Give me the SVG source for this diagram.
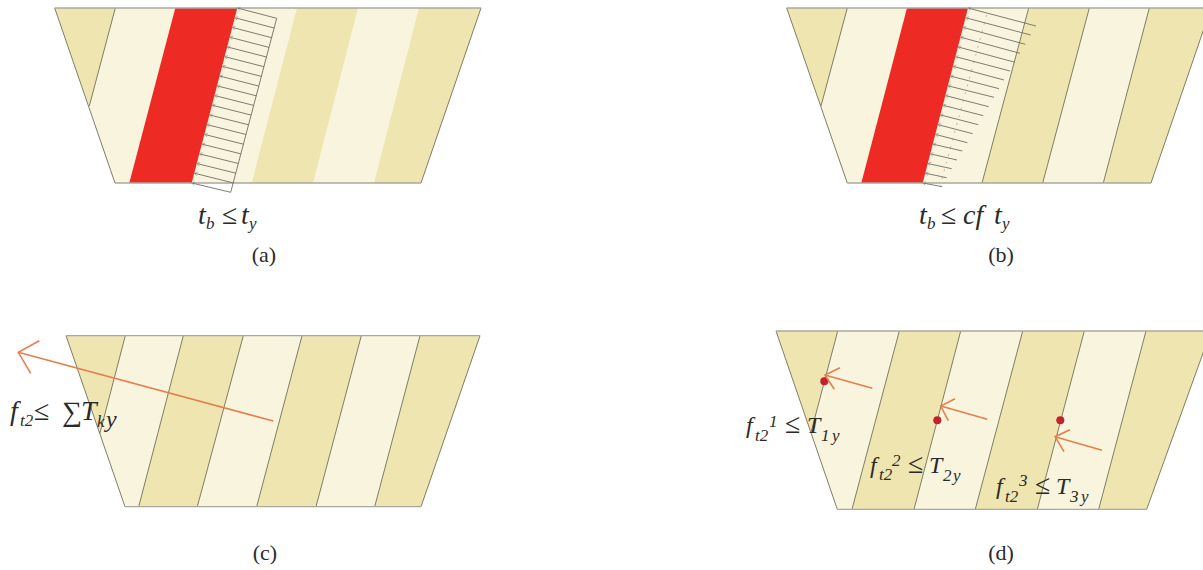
<svg xmlns="http://www.w3.org/2000/svg" width="1203" height="570" viewBox="0 0 1203 570">
<defs>
<marker id="tick" viewBox="0 0 8 8" refX="1" refY="4" markerWidth="8" markerHeight="8" markerUnits="userSpaceOnUse" orient="auto"><path d="M4 2.2L1 4L4 5.8" fill="none" stroke="#9a9a90" stroke-width="0.7"/></marker>
</defs>
<style>
.d{fill:#EEE5B0}
.l{fill:#F8F4DE}
.r{fill:#EE2A24}
.e{fill:none;stroke:#7f7e66;stroke-width:1}
.top{fill:none;stroke:#a9a99c;stroke-width:1.3}
.h{fill:none;stroke:#6f6f68;stroke-width:0.9}
.o{fill:none;stroke:#E67F4C;stroke-width:1.6}
.p{fill:#C4202E}
text{font-family:"Liberation Serif","Times New Roman",serif;fill:#2a2a2a}
.m{font-size:28px;font-style:italic}
.n{font-size:24px;font-style:italic}
.s{font-size:17px;font-style:italic}
.u{font-size:28px}
.c{font-size:22px;text-anchor:middle}
</style>

<g id="panel-a">
<path class="l" d="M54.7 8H481L421 183H115Z"/>
<path class="d" d="M54.7 8H115.3L89.3 106Z"/>
<path class="r" d="M175.3 8H237.3L191.7 183H129.3Z"/>
<path class="d" d="M297 8H358L313 183H251.7Z"/>
<path class="d" d="M419 8H481L421 183H374Z"/>
<path class="e" d="M54.7 8L115 183M481 8L421 183M115.3 8L89.3 106"/>
<path class="top" d="M54.7 8H481M115 183H421"/>
</g>
<g id="panel-a-hatch">
<path class="h" d="M276.7 18.3L230.7 192.3"/>
<path class="h" marker-start="url(#tick)" d="M237.3 8L276.7 18.3"/>
<path class="h" marker-start="url(#tick)" d="M234.8 17.7L274.1 28"/>
<path class="h" marker-start="url(#tick)" d="M232.2 27.4L271.6 37.7"/>
<path class="h" marker-start="url(#tick)" d="M229.7 37.2L269 47.4"/>
<path class="h" marker-start="url(#tick)" d="M227.2 46.9L266.5 57"/>
<path class="h" marker-start="url(#tick)" d="M224.6 56.6L263.9 66.7"/>
<path class="h" marker-start="url(#tick)" d="M222.1 66.3L261.4 76.4"/>
<path class="h" marker-start="url(#tick)" d="M219.6 76L258.8 86.1"/>
<path class="h" marker-start="url(#tick)" d="M217 85.8L256.3 95.8"/>
<path class="h" marker-start="url(#tick)" d="M214.5 95.5L253.7 105.4"/>
<path class="h" marker-start="url(#tick)" d="M212 105.2L251.2 115.1"/>
<path class="h" marker-start="url(#tick)" d="M209.4 114.9L248.6 124.8"/>
<path class="h" marker-start="url(#tick)" d="M206.9 124.6L246.1 134.5"/>
<path class="h" marker-start="url(#tick)" d="M204.4 134.4L243.5 144.2"/>
<path class="h" marker-start="url(#tick)" d="M201.8 144.1L241 153.9"/>
<path class="h" marker-start="url(#tick)" d="M199.3 153.8L238.4 163.5"/>
<path class="h" marker-start="url(#tick)" d="M196.8 163.5L235.9 173.2"/>
<path class="h" marker-start="url(#tick)" d="M194.2 173.2L233.3 182.9"/>
<path class="h" marker-start="url(#tick)" d="M191.7 183L230.7 192.3"/>
</g>
<g id="label-a">
<text class="m" x="198" y="224">t</text><text class="s" x="206" y="229">b</text><text class="u" x="222" y="224">≤</text><text class="m" x="241" y="224">t</text><text class="s" x="249" y="229">y</text>
<text class="c" x="264" y="262">(a)</text>
</g>

<g id="panel-b">
<path class="l" d="M786.7 8H1211L1151 183H847.3Z"/>
<path class="d" d="M786.7 8H847.3L821 106Z"/>
<path class="r" d="M907 8H968L922.7 183H861.3Z"/>
<path class="d" d="M1028.7 8H1089.3L1042.7 183H982Z"/>
<path class="d" d="M1149.3 8H1211L1151 183H1103.3Z"/>
<path class="e" d="M786.7 8L847.3 183M1211 8L1151 183M847.3 8L821 106M1028.7 8L982 183M1089.3 8L1042.7 183M1149.3 8L1103.3 183"/>
<path class="top" d="M786.7 8H1203M847.3 183H1151"/>
</g>
<g id="panel-b-hatch">
<path d="M986.7 15L940 186" fill="none" stroke="#a8a89a" stroke-width="0.8" stroke-dasharray="2 6"/>
<path class="h" marker-start="url(#tick)" d="M968 8L1036 26"/>
<path class="h" marker-start="url(#tick)" d="M965.5 17.7L1030.7 35"/>
<path class="h" marker-start="url(#tick)" d="M963 27.4L1025.3 44.3"/>
<path class="h" marker-start="url(#tick)" d="M960.5 37.2L1020 53.3"/>
<path class="h" marker-start="url(#tick)" d="M957.9 46.9L1015 62.3"/>
<path class="h" marker-start="url(#tick)" d="M955.4 56.6L1010 71"/>
<path class="h" marker-start="url(#tick)" d="M952.9 66.3L1004 80"/>
<path class="h" marker-start="url(#tick)" d="M950.4 76L999 88.7"/>
<path class="h" marker-start="url(#tick)" d="M947.9 85.8L994 97.3"/>
<path class="h" marker-start="url(#tick)" d="M945.3 95.5L988.7 106.7"/>
<path class="h" marker-start="url(#tick)" d="M942.8 105.2L983.3 115.7"/>
<path class="h" marker-start="url(#tick)" d="M940.3 114.9L978.3 124.7"/>
<path class="h" marker-start="url(#tick)" d="M937.8 124.6L972.7 133.7"/>
<path class="h" marker-start="url(#tick)" d="M935.3 134.4L967.3 142.7"/>
<path class="h" marker-start="url(#tick)" d="M932.8 144.1L962.3 151"/>
<path class="h" marker-start="url(#tick)" d="M930.2 153.8L957 160"/>
<path class="h" marker-start="url(#tick)" d="M927.7 163.5L951.7 168.7"/>
<path class="h" marker-start="url(#tick)" d="M925.2 173.2L946.7 177.7"/>
<path class="h" marker-start="url(#tick)" d="M922.7 183L942.3 186.7"/>
</g>
<g id="label-b">
<text class="m" x="919" y="224">t</text><text class="s" x="927" y="229">b</text><text class="u" x="941" y="224">≤</text><text class="m" x="963" y="224">cf</text><text class="m" x="994" y="224">t</text><text class="s" x="1002" y="229">y</text>
<text class="c" x="1001" y="262">(b)</text>
</g>

<g id="panel-c">
<path class="l" d="M66 335.7H480L421 506.7H125Z"/>
<path class="d" d="M66 335.7H125.3L99.8 433.6Z"/>
<path class="d" d="M183.3 335.7H243.3L197.3 506.7H138.7Z"/>
<path class="d" d="M302 335.7H361.3L316 506.7H256.7Z"/>
<path class="d" d="M420 335.7H480L421 506.7H374.7Z"/>
<path class="e" d="M66 335.7L125 506.7M480 335.7L421 506.7M125.3 335.7L99.8 433.6M183.3 335.7L138.7 506.7M243.3 335.7L197.3 506.7M302 335.7L256.7 506.7M361.3 335.7L316 506.7M420 335.7L374.7 506.7"/>
<path class="top" d="M66 335.7H480M125 506.7H421"/>
</g>
<g id="connectors-c">
<path class="o" d="M273.3 421L18.3 352.3M39.3 340.7L18.3 352.3L30.7 373.3"/>
</g>
<g id="label-c">
<text class="m" x="10" y="420">f</text><text class="s" x="20" y="426">t2</text><text class="u" x="34" y="420">≤</text><text class="u" x="62" y="421">∑</text><text class="m" x="81" y="420">T</text><text class="s" x="97" y="427">k</text><text class="n" x="106" y="427">y</text>
<text class="c" x="265" y="560">(c)</text>
</g>

<g id="panel-d">
<path class="l" d="M776 331H1211L1146.7 509.3H837.3Z"/>
<path class="d" d="M776 331H837.7L811 432.4Z"/>
<path class="d" d="M899.3 331H960.7L914 509.3H852Z"/>
<path class="d" d="M1022.7 331H1084.3L1037.3 509.3H975.3Z"/>
<path class="d" d="M1146 331H1211L1146.7 509.3H1098.7Z"/>
<path class="e" d="M776 331L837.3 509.3M1211 331L1146.7 509.3M837.7 331L811 432.4M899.3 331L852 509.3M960.7 331L914 509.3M1022.7 331L975.3 509.3M1084.3 331L1037.3 509.3M1146 331L1098.7 509.3"/>
<path class="top" d="M776 331H1203M837.3 509.3H1146.7"/>
<circle class="p" cx="824.3" cy="381.3" r="4"/>
<circle class="p" cx="937.3" cy="420.3" r="4"/>
<circle class="p" cx="1060.3" cy="420.3" r="4"/>
</g>
<g id="connectors-d">
<path class="o" d="M872.3 388.3L825 375M840 367.7L825 375L834.3 389.3"/>
<path class="o" d="M987.3 419.3L940.7 406M955 398.7L940.7 406L948.3 420.7"/>
<path class="o" d="M1102 450.3L1055 436.7M1070 429.7L1055 436.7L1064 451.7"/>
</g>
<g id="label-d">
<text class="n" x="746" y="433">f</text><text class="s" x="755" y="441">t2</text><text class="s" x="769" y="427">1</text><text class="u" x="785" y="433">≤</text><text class="n" x="807" y="433">T</text><text class="s" x="821" y="441">1</text><text class="s" x="832" y="441">y</text>
<text class="n" x="870" y="473">f</text><text class="s" x="879" y="480">t2</text><text class="s" x="892" y="466">2</text><text class="u" x="908" y="473">≤</text><text class="n" x="929" y="473">T</text><text class="s" x="943" y="481">2</text><text class="s" x="953" y="481">y</text>
<text class="n" x="996" y="494">f</text><text class="s" x="1005" y="502">t2</text><text class="s" x="1019" y="486">3</text><text class="u" x="1035" y="494">≤</text><text class="n" x="1056" y="494">T</text><text class="s" x="1070" y="502">3</text><text class="s" x="1081" y="502">y</text>
<text class="c" x="1001" y="560">(d)</text>
</g>
</svg>
